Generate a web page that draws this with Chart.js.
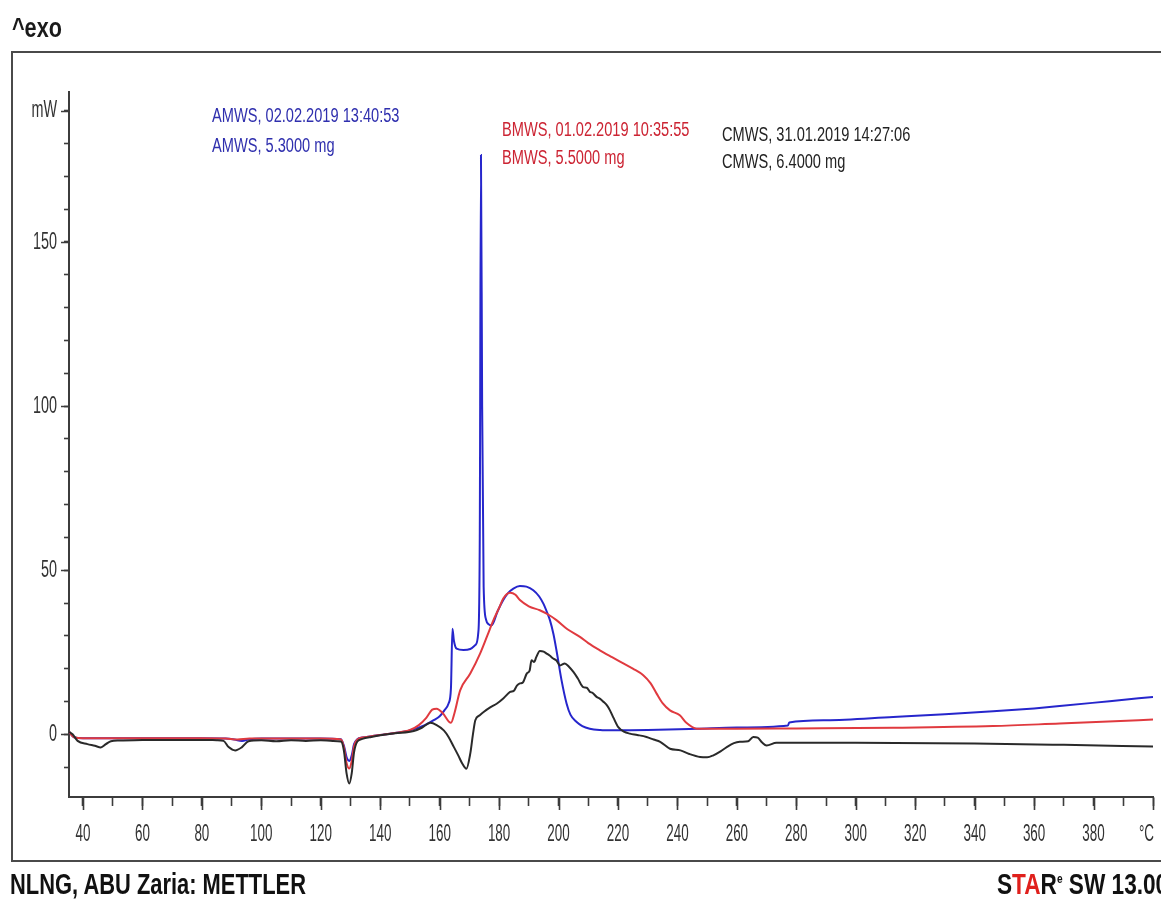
<!DOCTYPE html>
<html>
<head>
<meta charset="utf-8">
<title>DSC – AMWS / BMWS / CMWS</title>
<script src="https://cdn.jsdelivr.net/npm/chart.js@4.4.1/dist/chart.umd.min.js"></script>
<style>
  html, body { margin:0; padding:0; background:#fff; }
  body { width:1161px; height:907px; position:relative; overflow:hidden; }
  #chart { position:absolute; left:0; top:0; }
  #frame { position:absolute; left:11px; top:51px; width:1200px; height:811px;
           border:2px solid #4a4a4a; box-sizing:border-box; }
  .txt { position:absolute; white-space:nowrap; line-height:1; transform-origin:0 0;
         font-family:'Liberation Sans', Arial, sans-serif; }
  .ann { font-size:20px; transform:scaleX(0.73); }
  .blue { color:#2f2fae; }
  .red  { color:#cc2433; }
  .dark { color:#222; }
  #exo { left:12px; top:15px; font-size:27px; font-weight:bold; color:#1a1a1a; transform:scaleX(0.8); }
  #foot { left:10px; top:870px; font-size:29px; font-weight:bold; color:#111; transform:scaleX(0.755); }
  #star { left:997px; top:870px; font-size:29px; font-weight:bold; color:#111; transform:scaleX(0.78); }
  #star .r { color:#e0201c; }
  #star sup { font-size:13px; vertical-align:top; position:relative; top:2px; }
</style>
</head>
<body>
<canvas id="chart" width="1161" height="907"></canvas>
<div id="frame"></div>
<div class="txt" id="exo">^exo</div>
<div id="annots"></div>
<div class="txt" id="foot">NLNG, ABU Zaria: METTLER</div>
<div class="txt" id="star">S<span class="r">TA</span>R<sup>e</sup> SW 13.00</div>
<script>
// ---------- data ----------
const seriesNames = ['AMWS', 'BMWS', 'CMWS'];
const seriesInfo = [
  ['AMWS, 02.02.2019 13:40:53', 'AMWS, 5.3000 mg'],
  ['BMWS, 01.02.2019 10:35:55', 'BMWS, 5.5000 mg'],
  ['CMWS, 31.01.2019 14:27:06', 'CMWS, 6.4000 mg']
];

// AMWS (blue) – temperature °C / heat flow mW
const tempA = [35.3, 37, 40, 50, 60, 70, 80, 88, 91, 93.5, 96, 100, 110, 120, 126.8, 127.8, 128.7, 129.6, 130.4, 131.2, 132.3, 134, 137, 140, 145, 150, 155, 158, 160, 161.6, 163, 163.8, 164.3, 164.8, 165.7, 168, 170.3, 172, 173, 173.5, 173.9, 174.3, 174.8, 175.6, 176.5, 177.5, 179.5, 181.4, 183, 184.8, 187, 189.2, 191.5, 193.5, 194.9, 196.2, 197.1, 198.3, 199.3, 201, 202.7, 204, 206, 208, 210.5, 214, 218.4, 230, 246.5, 260, 277.2, 277.6, 290, 312.6, 330, 346.2, 360, 368.6, 385.4, 400];
const mwA   = [0.8, -0.9, -1.2, -1.2, -1.2, -1.2, -1.2, -1.3, -1.6, -2.0, -1.5, -1.3, -1.3, -1.3, -1.5, -3.5, -7.0, -8.1, -6.5, -3.0, -1.5, -1.0, -0.6, -0.2, 0.4, 1.2, 2.8, 4.3, 5.5, 7.3, 9.4, 14, 32.2, 28.5, 26.1, 25.7, 26, 27.2, 31, 60, 176.5, 100, 45, 35, 33.5, 33.2, 37.5, 40.9, 43, 44.4, 45.2, 45, 43.9, 42, 39.8, 37, 34.8, 30.5, 25.6, 16.5, 9.4, 6, 3.8, 2.5, 1.7, 1.3, 1.2, 1.3, 1.7, 2.1, 2.7, 3.6, 4.3, 5.3, 6.1, 7.0, 7.9, 8.6, 10.1, 11.4];

// BMWS (red)
const tempB = [35.3, 37, 40, 50, 60, 70, 80, 88, 92, 96, 100, 110, 120, 126.8, 127.8, 128.7, 129.6, 130.4, 131.2, 132.3, 134, 137, 140, 145, 150, 153, 155.5, 157.5, 159, 161, 163.8, 165, 166.9, 170.3, 173.6, 176, 178.1, 180, 181.4, 183.7, 185.5, 187, 190, 193.7, 196.5, 199.3, 203, 207.2, 210, 213.9, 218, 221.8, 225, 228.5, 231, 233, 235, 237.5, 240.8, 243, 246.5, 260, 280, 312.6, 346.2, 368.6, 385, 400];
const mwB   = [0.8, -0.9, -1.2, -1.2, -1.2, -1.2, -1.2, -1.3, -1.6, -1.3, -1.3, -1.3, -1.3, -1.6, -4.0, -8.8, -10.4, -8.2, -3.6, -1.6, -1.0, -0.6, -0.2, 0.4, 1.3, 2.8, 5.0, 7.5, 7.8, 6.5, 3.5, 6.5, 13.4, 18.5, 24.6, 30, 34.8, 38.5, 41.4, 43.1, 42.5, 40.9, 39, 37.8, 36.5, 34.8, 32, 29.7, 27.8, 25.6, 23.5, 21.6, 20, 18, 15.5, 12.4, 9.5, 7.3, 5.8, 3.5, 1.7, 1.7, 1.8, 2.0, 2.5, 3.3, 3.9, 4.5];

// CMWS (black)
const tempC = [35.3, 36.5, 38.2, 41.5, 44, 46, 47.7, 49.4, 52.2, 60, 70, 80, 85, 87.3, 89, 91.2, 93.5, 95.7, 100, 105, 110, 115, 120, 124, 126.8, 127.8, 128.7, 129.6, 130.4, 131.2, 132.3, 134, 137, 140, 145, 151.3, 154, 156.9, 159, 161.4, 163, 164.8, 166.3, 167.6, 169, 170.3, 171.2, 172, 173.5, 174.8, 177, 179.3, 181.5, 183.7, 185, 186, 187, 188, 189.3, 190.3, 190.9, 191.8, 192.5, 193.7, 195, 196, 197, 198.2, 199.3, 200.5, 202.1, 203.5, 205, 206.5, 208.3, 209.5, 210.5, 211.5, 212.8, 214, 215, 216.3, 217.3, 218.5, 220.1, 222, 224, 226.5, 229.6, 232, 234.2, 237.5, 241, 244, 247.6, 250, 252.1, 254.5, 256.6, 259, 261, 263.8, 265.5, 267, 268.5, 270, 273.3, 300, 340, 370, 400];
const mwC   = [0.8, 0.0, -2.0, -3.0, -3.5, -4.0, -3.0, -2.1, -1.9, -1.7, -1.7, -1.7, -1.8, -2.0, -3.9, -4.9, -3.9, -2.1, -1.8, -2.1, -1.8, -2.0, -1.8, -2.0, -2.2, -5.0, -12.0, -15.0, -12.0, -5.5, -2.2, -1.4, -0.8, -0.3, 0.3, 1.0, 2.0, 3.5, 2.8, 1.2, -0.8, -3.9, -6.5, -8.9, -10.5, -5.9, 0, 4.3, 5.8, 6.8, 8.2, 9.4, 11, 12.9, 13.3, 14.8, 15.5, 15.8, 18.5, 19.5, 22.6, 22.0, 23.5, 25.4, 25.2, 24.6, 24.0, 23.1, 22.5, 21.0, 21.6, 20.6, 19.0, 17.0, 14.4, 14.2, 13.0, 12.6, 11.4, 10.8, 10.0, 8.8, 7.3, 5.0, 2.2, 0.8, 0.2, -0.2, -0.8, -1.6, -2.3, -4.4, -4.9, -6.0, -6.9, -7.0, -6.4, -5.2, -3.9, -2.7, -2.3, -2.1, -0.8, -1.0, -2.5, -3.4, -2.6, -2.6, -2.8, -3.2, -3.7];

// axis ticks
const xTickValues = [40, 50, 60, 70, 80, 90, 100, 110, 120, 130, 140, 150, 160, 170, 180, 190, 200, 210, 220, 230, 240, 250, 260, 270, 280, 290, 300, 310, 320, 330, 340, 350, 360, 370, 380, 390, 400];
const yTickValues = [-10, 0, 10, 20, 30, 40, 50, 60, 70, 80, 90, 100, 110, 120, 130, 140, 150, 160, 170, 180, 190];
const xUnit = '°C';
const yUnit = 'mW';
const xLabel = v => v === 400 ? xUnit : (v % 20 === 0 ? String(v) : '');
const yLabel = v => v === 190 ? yUnit : (v % 50 === 0 ? String(v) : '');

// ---------- annotations ----------
const annotClasses = ['blue', 'red', 'dark'];
const annotPos = [[212, 104.5, 134.5], [502, 119, 147], [721.5, 124, 151]];
const annotBox = document.getElementById('annots');
seriesInfo.forEach((lines, i) => {
  lines.forEach((line, j) => {
    const d = document.createElement('div');
    d.className = 'txt ann ' + annotClasses[i];
    d.style.left = annotPos[i][0] + 'px';
    d.style.top = annotPos[i][1 + j] + 'px';
    d.textContent = line;
    annotBox.appendChild(d);
  });
});

// ---------- chart ----------
const zip = (xs, ys) => xs.map((x, i) => ({ x: x, y: ys[i] }));
const axisColor = '#3c3c3c';

// narrow (condensed) tick labels + longer major tick marks, placed through the chart's scales
const condensedAxes = {
  id: 'condensedAxes',
  afterDraw(chart) {
    const ctx = chart.ctx;
    const xs = chart.scales.x, ys = chart.scales.y;
    const area = chart.chartArea;
    ctx.save();
    ctx.strokeStyle = axisColor;
    ctx.lineWidth = 1.6;
    ctx.beginPath();
    xs.ticks.forEach(t => {
      if (!xLabel(t.value)) return;
      const px = Math.round(xs.getPixelForValue(t.value)) + 0.5;
      ctx.moveTo(px, area.bottom); ctx.lineTo(px, area.bottom + 13);
    });
    ys.ticks.forEach(t => {
      if (!yLabel(t.value)) return;
      const py = Math.round(ys.getPixelForValue(t.value)) + 0.5;
      ctx.moveTo(area.left - 8, py); ctx.lineTo(area.left, py);
    });
    ctx.stroke();

    ctx.fillStyle = '#333';
    ctx.font = "24px 'Liberation Sans', Arial, sans-serif";
    ctx.textBaseline = 'middle';
    xs.ticks.forEach(t => {
      const lab = xLabel(t.value); if (!lab) return;
      ctx.save();
      ctx.textAlign = lab === xUnit ? 'right' : 'center';
      ctx.translate(xs.getPixelForValue(t.value) + (lab === xUnit ? 1 : 0), area.bottom + 37);
      ctx.scale(0.56, 1);
      ctx.fillText(lab, 0, 0);
      ctx.restore();
    });
    ctx.textAlign = 'right';
    ys.ticks.forEach(t => {
      const lab = yLabel(t.value); if (!lab) return;
      ctx.save();
      ctx.translate(area.left - 12, ys.getPixelForValue(t.value));
      ctx.scale(lab === yUnit ? 0.6 : 0.6, 1);
      ctx.fillText(lab, 0, 0);
      ctx.restore();
    });
    ctx.restore();
  }
};

new Chart(document.getElementById('chart'), {
  type: 'line',
  data: {
    datasets: [
      { label: seriesNames[2], data: zip(tempC, mwC), borderColor: '#2a2a2a', borderWidth: 2 },
      { label: seriesNames[1], data: zip(tempB, mwB), borderColor: '#e03a3f', borderWidth: 2 },
      { label: seriesNames[0], data: zip(tempA, mwA), borderColor: '#2626cc', borderWidth: 2 }
    ]
  },
  plugins: [condensedAxes],
  options: {
    responsive: false,
    animation: false,
    events: [],
    layout: { padding: { left: 0, top: 92, right: 8, bottom: 0 } },
    elements: {
      point: { radius: 0 },
      line: { cubicInterpolationMode: 'monotone', fill: false }
    },
    plugins: { legend: { display: false }, tooltip: { enabled: false }, title: { display: false } },
    scales: {
      x: {
        type: 'linear',
        min: 35.3,
        max: 400,
        afterBuildTicks: s => { s.ticks = xTickValues.map(v => ({ value: v })); },
        afterFit: s => { s.height = 110; s.paddingLeft = 0; s.paddingRight = 0; },
        border: { display: true, color: axisColor, width: 2 },
        grid: { drawOnChartArea: false, drawTicks: true, tickLength: 9, tickColor: axisColor, tickWidth: 1.6 },
        ticks: { display: false, autoSkip: false, callback: v => xLabel(v) }
      },
      y: {
        type: 'linear',
        min: -19.1,
        max: 195.7,
        afterBuildTicks: s => { s.ticks = yTickValues.map(v => ({ value: v })); },
        afterFit: s => { s.width = 69; s.paddingTop = 0; s.paddingBottom = 0; },
        border: { display: true, color: axisColor, width: 2 },
        grid: { drawOnChartArea: false, drawTicks: true, tickLength: 5, tickColor: axisColor, tickWidth: 1.6 },
        ticks: { display: false, autoSkip: false, callback: v => yLabel(v) }
      }
    }
  }
});
</script>
</body>
</html>
